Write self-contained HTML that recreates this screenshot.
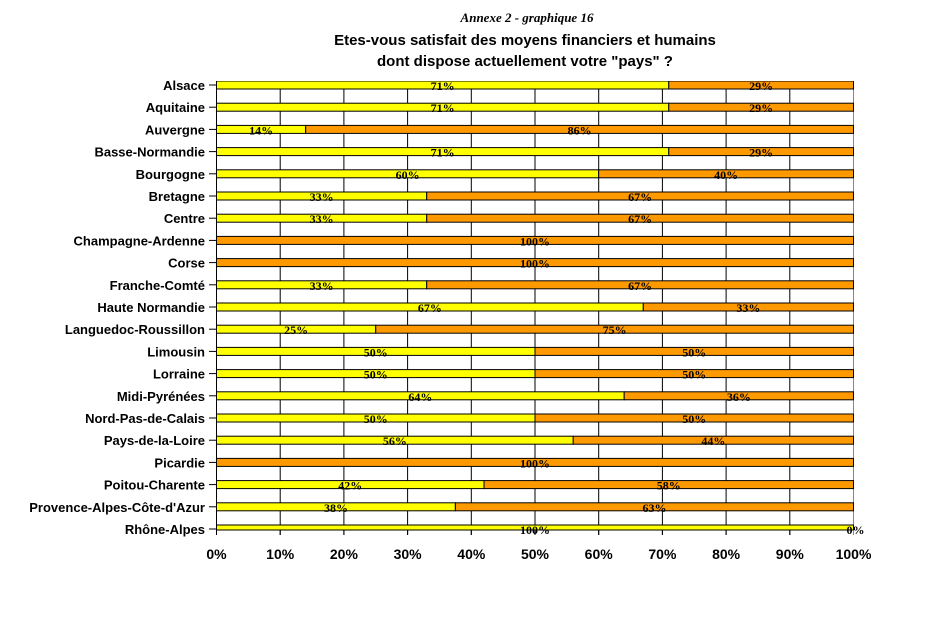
<!DOCTYPE html>
<html><head><meta charset="utf-8"><style>
body{margin:0;background:#fff;width:928px;height:613px;overflow:hidden}
svg text{font-family:"Liberation Sans",sans-serif}
</style></head><body>
<svg id="c" width="928" height="613">
<text x="527" y="22" text-anchor="middle" style="font-family:'Liberation Serif',serif;font-style:italic;font-weight:bold;font-size:13px">Annexe 2 - graphique 16</text>
<text x="525" y="45" text-anchor="middle" font-weight="bold" font-size="15">Etes-vous satisfait des moyens financiers et humains</text>
<text x="525" y="66" text-anchor="middle" font-weight="bold" font-size="15">dont dispose actuellement votre "pays" ?</text>
<g id="plot"></g>
</svg>
<script>
const categories=["Alsace","Aquitaine","Auvergne","Basse-Normandie","Bourgogne","Bretagne","Centre","Champagne-Ardenne","Corse","Franche-Comté","Haute Normandie","Languedoc-Roussillon","Limousin","Lorraine","Midi-Pyrénées","Nord-Pas-de-Calais","Pays-de-la-Loire","Picardie","Poitou-Charente","Provence-Alpes-Côte-d'Azur","Rhône-Alpes"];
const yesValues=[71,71,14,71,60,33,33,0,0,33,67,25,50,50,64,50,56,0,42,37.5,100];
const noValues=[29,29,86,29,40,67,67,100,100,67,33,75,50,50,36,50,44,100,58,62.5,0];
const xTicks=[0,10,20,30,40,50,60,70,80,90,100];
const NS="http://www.w3.org/2000/svg";
const g=document.getElementById('plot');
const X0=216.5,X1=853.5,Y0=81,Y1=530,ROW0=85,STEP=22.2,BH=8;
const xs=v=>X0+(X1-X0)*v/100;
const ys=i=>ROW0+i*STEP;
function mk(t,a){const e=document.createElementNS(NS,t);for(const k in a)e.setAttribute(k,a[k]);g.appendChild(e);return e;}
const defs=document.createElementNS(NS,'defs');defs.innerHTML='<clipPath id="cp"><rect x="0" y="'+Y0+'" width="928" height="'+(Y1-Y0)+'"/></clipPath>';g.appendChild(defs);
xTicks.forEach(t=>{
  if(t>0){const l=mk('line',{x1:xs(t),x2:xs(t),y1:Y0,y2:Y1+5,stroke:t===100?'#888':'#000','stroke-width':1});
  
  }
  if(t<100){const tk=mk('line',{x1:xs(t),x2:xs(t),y1:Y1,y2:Y1+5,stroke:'#000'});
  
  }
  const tx=mk('text',{x:xs(t),y:559,'text-anchor':'middle','font-weight':'bold','font-size':14});tx.textContent=t+'%';
  
  
});
const bars=mk('g',{'clip-path':'url(#cp)'});
categories.forEach((c,i)=>{
  const y=ys(i);
  const segs=[[0,yesValues[i],'#ffff00','yes'],[yesValues[i],yesValues[i]+noValues[i],'#ff9900','no']];
  segs.forEach(s=>{
    if(s[1]>s[0]){const r=document.createElementNS(NS,'rect');
      r.setAttribute('x',xs(s[0]));r.setAttribute('y',y-BH/2);r.setAttribute('width',xs(s[1])-xs(s[0]));r.setAttribute('height',BH);
      r.setAttribute('fill',s[2]);r.setAttribute('stroke','#000');r.setAttribute('stroke-width','1');
      
      
      bars.appendChild(r);}
    const v=s[1]-s[0];
    if(v>0||s[3]==='no'){const t=mk('text',{x:v>0?(xs(s[0])+xs(s[1]))/2:xs(s[0])+2,y:y+5,'text-anchor':'middle','font-size':12,'font-weight':'bold',style:"font-family:'Liberation Serif',serif"});
      t.textContent=Math.round(v)+'%';
      
      }
  });
  const tk=mk('line',{x1:209,x2:X0,y1:y,y2:y,stroke:'#000'});
  
  
  const lb=mk('text',{x:205,y:y+5,'text-anchor':'end','font-weight':'bold','font-size':13});lb.textContent=c;
  
  
});
g.appendChild(bars);
// move labels above bars
Array.from(g.querySelectorAll('text')).forEach(t=>g.appendChild(t));
const ax=mk('line',{x1:X0,x2:X0,y1:Y0,y2:Y1,stroke:'#000'});


const bx=mk('line',{x1:X0,x2:X1,y1:Y1,y2:Y1,stroke:'#000'});


</script>
</body></html>
